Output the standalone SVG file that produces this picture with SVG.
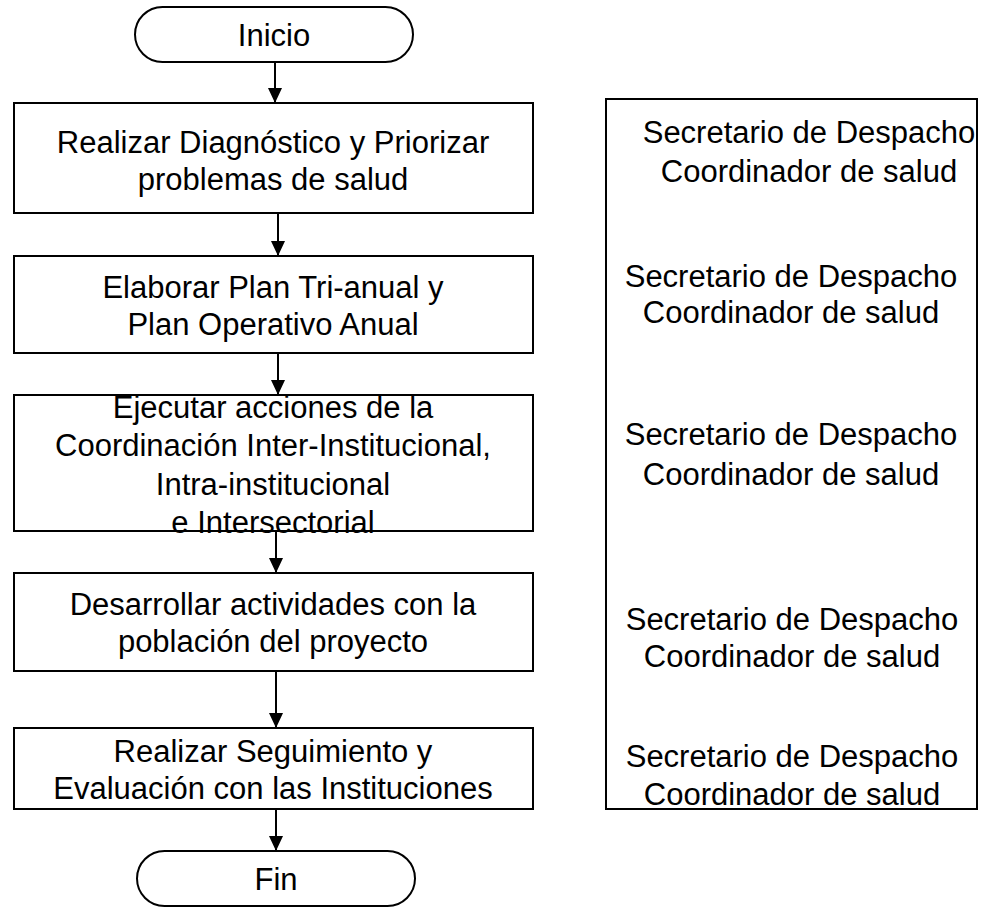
<svg xmlns="http://www.w3.org/2000/svg" width="984" height="908" viewBox="0 0 984 908">
<style>
.box{fill:#fff;stroke:#000;stroke-width:2}
.t{font-family:"Liberation Sans",Arial,sans-serif;font-size:31px;fill:#000;text-anchor:middle}
.c{stroke:#000;stroke-width:2;fill:none}
</style>
<defs>
<marker id="ah" markerUnits="userSpaceOnUse" markerWidth="14" markerHeight="16" refX="7" refY="15" orient="auto-start-reverse" viewBox="0 0 14 16">
<path d="M0,0 L14,0 L7,15 Z" fill="#000" transform="rotate(-90 7 7.5) translate(0 0)"/>
</marker>
<marker id="arr" markerUnits="userSpaceOnUse" markerWidth="16" markerHeight="14" refX="15" refY="7" orient="auto" viewBox="0 0 16 14">
<path d="M0,0 L15,7 L0,14 Z" fill="#000"/>
</marker>
</defs>
<g id="connectors">
<line class="c" x1="275" y1="62" x2="275" y2="103" marker-end="url(#arr)"/>
<line class="c" x1="278" y1="213" x2="278" y2="256" marker-end="url(#arr)"/>
<line class="c" x1="278" y1="353" x2="278" y2="395" marker-end="url(#arr)"/>
<line class="c" x1="276" y1="531" x2="276" y2="573" marker-end="url(#arr)"/>
<line class="c" x1="276" y1="671" x2="276" y2="728" marker-end="url(#arr)"/>
<line class="c" x1="276" y1="809" x2="276" y2="851" marker-end="url(#arr)"/>
</g>
<g id="inicio">
<rect class="box" x="135" y="7" width="278" height="55" rx="27.5"/>
<text class="t" x="274" y="46">Inicio</text>
</g>
<g id="paso1">
<rect class="box" x="14" y="103" width="519" height="110"/>
<text class="t" x="273" y="153">Realizar Diagnóstico y Priorizar</text>
<text class="t" x="273" y="190">problemas de salud</text>
</g>
<g id="paso2">
<rect class="box" x="14" y="256" width="519" height="97"/>
<text class="t" x="273" y="298">Elaborar Plan Tri-anual y</text>
<text class="t" x="273" y="335">Plan Operativo Anual</text>
</g>
<g id="paso3">
<rect class="box" x="14" y="395" width="519" height="136"/>
<text class="t" x="273" y="418">Ejecutar acciones de la</text>
<text class="t" x="273" y="456">Coordinación Inter-Institucional,</text>
<text class="t" x="273" y="495">Intra-institucional</text>
<text class="t" x="273" y="533">e Intersectorial</text>
</g>
<g id="paso4">
<rect class="box" x="14" y="573" width="519" height="98"/>
<text class="t" x="273" y="615">Desarrollar actividades con la</text>
<text class="t" x="273" y="652">población del proyecto</text>
</g>
<g id="paso5">
<rect class="box" x="14" y="728" width="519" height="81"/>
<text class="t" x="273" y="762">Realizar Seguimiento y</text>
<text class="t" x="273" y="799">Evaluación con las Instituciones</text>
</g>
<g id="fin">
<rect class="box" x="137" y="851" width="278" height="55" rx="27.5"/>
<text class="t" x="276" y="890">Fin</text>
</g>
<g id="responsables">
<rect class="box" x="606" y="99" width="371" height="710"/>
<text class="t" x="809" y="143">Secretario de Despacho</text>
<text class="t" x="809" y="182">Coordinador de salud</text>
<text class="t" x="791" y="287">Secretario de Despacho</text>
<text class="t" x="791" y="323">Coordinador de salud</text>
<text class="t" x="791" y="445">Secretario de Despacho</text>
<text class="t" x="791" y="485">Coordinador de salud</text>
<text class="t" x="792" y="630">Secretario de Despacho</text>
<text class="t" x="792" y="667">Coordinador de salud</text>
<text class="t" x="792" y="767">Secretario de Despacho</text>
<text class="t" x="792" y="805">Coordinador de salud</text>
</g>
</svg>
